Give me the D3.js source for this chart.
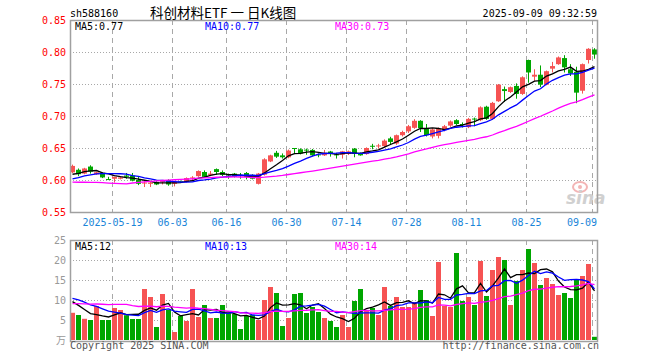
<!DOCTYPE html>
<html><head><meta charset="utf-8">
<script src="https://cdn.jsdelivr.net/npm/d3@7"></script>
<style>body{margin:0;background:#fff}svg{display:block}</style>
</head><body><svg id="c" width="660" height="360"></svg>
<script>
// ---------- data ----------
const dates = [
"2025-05-08","2025-05-09","2025-05-12","2025-05-13","2025-05-14","2025-05-15","2025-05-16","2025-05-19","2025-05-20","2025-05-21",
"2025-05-22","2025-05-23","2025-05-26","2025-05-27","2025-05-28","2025-05-29","2025-05-30","2025-06-03","2025-06-04","2025-06-05",
"2025-06-06","2025-06-09","2025-06-10","2025-06-11","2025-06-12","2025-06-13","2025-06-16","2025-06-17","2025-06-18","2025-06-19",
"2025-06-20","2025-06-23","2025-06-24","2025-06-25","2025-06-26","2025-06-27","2025-06-30","2025-07-01","2025-07-02","2025-07-03",
"2025-07-04","2025-07-07","2025-07-08","2025-07-09","2025-07-10","2025-07-11","2025-07-14","2025-07-15","2025-07-16","2025-07-17",
"2025-07-18","2025-07-21","2025-07-22","2025-07-23","2025-07-24","2025-07-25","2025-07-28","2025-07-29","2025-07-30","2025-07-31",
"2025-08-01","2025-08-04","2025-08-05","2025-08-06","2025-08-07","2025-08-08","2025-08-11","2025-08-12","2025-08-13","2025-08-14",
"2025-08-15","2025-08-18","2025-08-19","2025-08-20","2025-08-21","2025-08-22","2025-08-25","2025-08-26","2025-08-27","2025-08-28",
"2025-08-29","2025-09-01","2025-09-02","2025-09-03","2025-09-04","2025-09-05","2025-09-08","2025-09-09"];
const opens = [0.612,0.616,0.610,0.621,0.609,0.611,0.6015,0.602,0.602,0.607,
0.607,0.600,0.595,0.594,0.597,0.597,0.600,0.594,0.598,0.597,
0.603,0.606,0.6125,0.608,0.617,0.6125,0.6085,0.610,0.608,0.611,
0.608,0.594,0.6083,0.629,0.6425,0.6385,0.6355,0.650,0.648,0.6475,
0.647,0.640,0.6385,0.6445,0.640,0.6395,0.6406,0.649,0.6415,0.6405,
0.6535,0.6525,0.653,0.665,0.657,0.670,0.676,0.6815,0.6925,0.681,
0.668,0.669,0.678,0.685,0.6935,0.6875,0.6825,0.696,0.6935,0.7145,
0.6955,0.723,0.742,0.7375,0.747,0.7345,0.7875,0.7615,0.7645,0.749,
0.774,0.781,0.7905,0.773,0.769,0.7395,0.7875,0.804];
const highs = [0.624,0.618,0.619,0.623,0.613,0.612,0.605,0.605,0.605,0.611,
0.611,0.605,0.598,0.598,0.598,0.600,0.601,0.598,0.599,0.604,
0.606,0.615,0.615,0.614,0.618,0.615,0.610,0.611,0.611,0.6125,
0.609,0.611,0.634,0.6395,0.6455,0.6415,0.6475,0.650,0.6495,0.649,
0.6485,0.6415,0.647,0.6455,0.6425,0.6455,0.646,0.650,0.643,0.651,
0.6565,0.6565,0.6635,0.6675,0.671,0.677,0.686,0.695,0.6935,0.6875,
0.681,0.682,0.686,0.693,0.695,0.690,0.697,0.6975,0.715,0.716,
0.722,0.750,0.746,0.746,0.751,0.762,0.788,0.773,0.779,0.771,
0.7845,0.793,0.795,0.781,0.777,0.782,0.806,0.806];
const lows = [0.611,0.606,0.609,0.610,0.608,0.603,0.600,0.596,0.601,0.602,
0.598,0.592,0.589,0.589,0.592,0.593,0.591,0.590,0.596,0.596,
0.600,0.605,0.604,0.606,0.608,0.606,0.602,0.604,0.602,0.601,
0.601,0.593,0.607,0.628,0.6345,0.6335,0.634,0.6405,0.640,0.6395,
0.637,0.6355,0.6375,0.6365,0.6335,0.6335,0.639,0.6355,0.638,0.6395,
0.648,0.649,0.651,0.655,0.655,0.668,0.6735,0.680,0.675,0.668,
0.665,0.665,0.676,0.683,0.686,0.682,0.681,0.684,0.692,0.694,
0.694,0.722,0.722,0.736,0.727,0.733,0.752,0.755,0.745,0.748,
0.768,0.780,0.768,0.7625,0.720,0.735,0.782,0.7895];
const closes = [0.622,0.609,0.618,0.613,0.612,0.604,0.601,0.605,0.604,0.605,
0.599,0.594,0.596,0.596,0.593,0.599,0.593,0.597,0.597,0.603,
0.604,0.614,0.605,0.610,0.6125,0.608,0.607,0.605,0.606,0.605,
0.602,0.610,0.6323,0.6385,0.6365,0.6355,0.646,0.649,0.6415,0.6465,
0.6385,0.6395,0.6425,0.6405,0.6395,0.6448,0.6448,0.641,0.6385,0.650,
0.6525,0.654,0.6615,0.6595,0.670,0.675,0.684,0.6925,0.681,0.670,
0.679,0.680,0.684,0.6915,0.6875,0.686,0.6955,0.695,0.7135,0.6955,
0.7205,0.749,0.739,0.745,0.7345,0.7605,0.768,0.7645,0.749,0.770,
0.778,0.7915,0.776,0.7665,0.7365,0.781,0.805,0.796];
// volume, unit 万手
const volumes = [6.8,6.25,5.3,5.0,8.5,5.0,5.0,8.0,7.5,6.2,
5.25,5.25,12.75,10.75,3.25,11.5,7.5,2.0,6.0,4.75,
12.75,5.75,8.75,5.5,5.5,8.75,6.75,6.5,2.75,6.0,
6.25,5.0,10.0,13.25,11.75,3.5,5.5,11.5,11.75,6.75,
8.25,7.0,5.5,4.75,3.25,6.25,3.25,9.75,12.75,7.25,
8.0,6.25,13.25,8.5,10.75,8.25,8.25,9.5,12.5,10.0,
6.0,19.5,8.5,8.25,21.75,9.75,10.75,8.75,19.75,11.0,
17.5,20.75,20.0,8.75,14.75,17.5,22.75,19.25,13.75,15.5,
14.0,11.25,11.75,10.5,15.25,16.0,19.0,0.8];
// sessions before the visible window (needed for the moving averages at the left edge)
const histCloses = [0.617,0.617,0.617,0.617,0.617,0.617,0.617,0.617,0.617,
0.560,0.566,0.570,0.574,0.572,0.578,0.576,0.580,0.581,0.586,0.590,
0.588,0.592,0.595,0.596,0.600,0.602,0.604,0.607,0.610];
const histVolumes = [7,7,7,7,7,7,7,7,7,
14,12,11,9,8.5,8,8,8.5,9,9,9,
10,11,12,12,11,11,10.5,10,9.7];

const priceTicks = [0.85,0.80,0.75,0.70,0.65,0.60,0.55];
const volTicks = [25,20,15,10,5];
const dateTicks = ["2025-05-19","2025-06-03","2025-06-16","2025-06-30","2025-07-14","2025-07-28","2025-08-11","2025-08-25","2025-09-09"];
const dateTickLabels = ["2025-05-19","06-03","06-16","06-30","07-14","07-28","08-11","08-25","09-09"];
const priceMaLabels = ["MA5:0.77","MA10:0.77","MA30:0.73"];
const volMaLabels = ["MA5:12","MA10:13","MA30:14"];
const maPeriods = [5,10,30];
const maColors = ["#000000","#0000ff","#ff00ff"];

// ---------- drawing ----------
const svg = d3.select("#c");
const MONO = "'DejaVu Sans Mono', 'Liberation Mono', monospace";
const RED = "#f65353", GREEN = "#00a600", GRID = "#a8a8a8";
const L = 70, R = 598, PT = 20, PB = 212, VT = 240, VB = 340;

const x = d3.scaleBand().domain(dates).range([L, R]).padding(0);
const bw = x.step() - 1;
const cx = d => x(d) + bw / 2;
const yP = d3.scaleLinear().domain([0.55, 0.85]).range([PB, PT]);
const yV = d3.scaleLinear().domain([0, 25]).range([VB, VT]);

function movingAvg(hist, vals, n) {
  const all = hist.concat(vals), h = hist.length;
  return vals.map((_, i) => d3.mean(all.slice(h + i - n + 1, h + i + 1)));
}

// horizontal dotted grid
const g = svg.append("g");
g.selectAll(".hp").data(priceTicks.filter(t => t < 0.849 && t > 0.551)).join("line")
  .attr("x1", L).attr("x2", R).attr("y1", d => Math.round(yP(d)) + 0.5).attr("y2", d => Math.round(yP(d)) + 0.5)
  .attr("stroke", GRID).attr("stroke-dasharray", "1,2");
g.selectAll(".hv").data(volTicks.filter(t => t < 25)).join("line")
  .attr("x1", L).attr("x2", R).attr("y1", d => Math.round(yV(d)) + 0.5).attr("y2", d => Math.round(yV(d)) + 0.5)
  .attr("stroke", GRID).attr("stroke-dasharray", "1,2");
// vertical dashed grid
dateTicks.forEach(d => {
  const xx = Math.round(x(d)) + 0.5;
  [[PT, PB], [VT, VB]].forEach(([a, b]) => g.append("line").attr("x1", xx).attr("x2", xx).attr("y1", a).attr("y2", b)
    .attr("stroke", GRID).attr("stroke-dasharray", "5,4"));
});

// sina watermark
const wm = svg.append("g");
wm.append("ellipse").attr("cx", 580).attr("cy", 187).attr("rx", 7).attr("ry", 5).attr("fill", "none").attr("stroke", "#f3b5b5").attr("stroke-width", 2);
wm.append("circle").attr("cx", 580).attr("cy", 187).attr("r", 2).attr("fill", "#f3b5b5");
wm.append("text").attr("x", 566).attr("y", 204).text("sina")
  .attr("font-family", "'DejaVu Sans', sans-serif").attr("font-size", 17).attr("font-weight", "bold").attr("font-style", "italic")
  .attr("fill", "#d0d0d0");

// candles
const cg = svg.append("g");
dates.forEach((d, i) => {
  const o = opens[i], c = closes[i], up = c >= o, col = up ? RED : GREEN;
  cg.append("line").attr("x1", cx(d)).attr("x2", cx(d)).attr("y1", yP(highs[i])).attr("y2", yP(lows[i])).attr("stroke", col);
  const top = yP(Math.max(o, c)), h = Math.max(1, Math.abs(yP(o) - yP(c)));
  cg.append("rect").attr("x", x(d)).attr("width", bw).attr("y", top).attr("height", h).attr("fill", col);
});
// volume bars
svg.append("g").selectAll("rect").data(dates).join("rect")
  .attr("x", d => x(d)).attr("width", bw)
  .attr("y", (d, i) => yV(volumes[i])).attr("height", (d, i) => VB - yV(volumes[i]))
  .attr("fill", (d, i) => closes[i] >= opens[i] ? RED : GREEN);

// moving averages
maPeriods.forEach((n, k) => {
  const mp = movingAvg(histCloses, closes, n);
  const mv = movingAvg(histVolumes, volumes, n);
  svg.append("path").attr("d", d3.line().x((v, i) => cx(dates[i])).y(v => yP(v))(mp))
    .attr("fill", "none").attr("stroke", maColors[k]).attr("stroke-width", 1.3);
  svg.append("path").attr("d", d3.line().x((v, i) => cx(dates[i])).y(v => yV(v))(mv))
    .attr("fill", "none").attr("stroke", maColors[k]).attr("stroke-width", 1.3);
});

// frames
svg.append("rect").attr("x", L + 0.5).attr("y", PT + 0.5).attr("width", R - L - 1).attr("height", PB - PT)
  .attr("fill", "none").attr("stroke", "#a0a0a0").attr("stroke-width", 1.5);
svg.append("rect").attr("x", L + 0.5).attr("y", VT + 0.5).attr("width", R - L - 1).attr("height", VB - VT + 1)
  .attr("fill", "none").attr("stroke", "#a0a0a0").attr("stroke-width", 1.5);

// axes labels
const ax = svg.append("g").attr("transform", `translate(${L},0)`)
  .call(d3.axisLeft(yP).tickValues(priceTicks).tickFormat(d3.format(".2f")).tickSize(0).tickPadding(4));
ax.select(".domain").remove();
ax.selectAll("text").attr("fill", "#ff0000").attr("font-family", MONO).attr("font-size", 10);

const av = svg.append("g").attr("transform", `translate(${L},0)`)
  .call(d3.axisLeft(yV).tickValues(volTicks).tickSize(0).tickPadding(4));
av.select(".domain").remove();
av.selectAll("text").attr("fill", "#999").attr("font-family", MONO).attr("font-size", 10);
svg.append("text").attr("x", L - 4).attr("y", VB + 4).attr("text-anchor", "end").text("万")
  .attr("fill", "#999").attr("font-family", "'Noto Sans CJK SC', sans-serif").attr("font-size", 10);

dateTicks.forEach((d, k) => {
  const last = k === dateTicks.length - 1;
  svg.append("text").attr("x", last ? R - 1 : Math.round(x(d)) + 0.5).attr("y", 226)
    .attr("text-anchor", last ? "end" : "middle").text(dateTickLabels[k])
    .attr("fill", "#1a85d8").attr("font-family", MONO).attr("font-size", 10);
});

// MA labels
const maX = [75, 205, 335];
priceMaLabels.forEach((t, k) => svg.append("text").attr("x", maX[k]).attr("y", 30).text(t)
  .attr("fill", maColors[k]).attr("font-family", MONO).attr("font-size", 10));
volMaLabels.forEach((t, k) => svg.append("text").attr("x", maX[k]).attr("y", 250).text(t)
  .attr("fill", maColors[k]).attr("font-family", MONO).attr("font-size", 10));

// header
svg.append("text").attr("x", 70).attr("y", 17).text("sh588160").attr("font-family", MONO).attr("font-size", 10).attr("fill", "#000");
svg.append("text").attr("x", 150).attr("y", 18).text("科创材料ETF 一 日K线图")
  .attr("font-family", "'Noto Sans CJK SC', sans-serif").attr("font-size", 13.5).attr("fill", "#000");
svg.append("text").attr("x", 597).attr("y", 17).attr("text-anchor", "end").text("2025-09-09 09:32:59")
  .attr("font-family", MONO).attr("font-size", 10).attr("fill", "#000");

// footer
svg.append("text").attr("x", 70).attr("y", 349).text("Copyright 2025 SINA.COM").attr("font-family", MONO).attr("font-size", 10).attr("fill", "#555");
svg.append("text").attr("x", 599).attr("y", 349).attr("text-anchor", "end").text("http://finance.sina.com.cn")
  .attr("font-family", MONO).attr("font-size", 10).attr("fill", "#555");
</script></body></html>
